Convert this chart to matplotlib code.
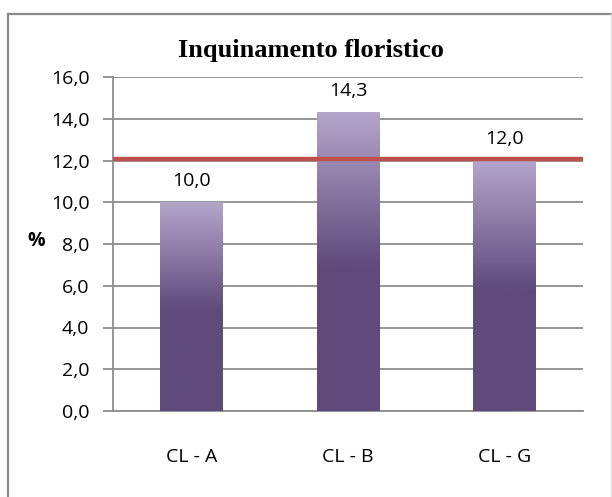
import matplotlib.pyplot as plt
import numpy as np
from matplotlib.colors import LinearSegmentedColormap
from matplotlib.lines import Line2D

categories = ["CL - A", "CL - B", "CL - G"]
values = [10.0, 14.3, 12.0]
threshold = 12.07
yticks = [0, 2, 4, 6, 8, 10, 12, 14, 16]

FONT = "Open Sans"

# bar fill: dark purple over the lower half, fading to lavender at the top
bar_cmap = LinearSegmentedColormap.from_list(
    "bar", [(0.0, "#5f4a7b"), (0.48, "#5f4a7b"), (1.0, "#b4a5cb")]
)

fig = plt.figure(figsize=(6.12, 4.97), dpi=100)
ax = fig.add_axes([113 / 612, 1 - 411 / 497, 470 / 612, 334 / 497])

x = np.arange(len(categories))
width = 0.4
bars = ax.bar(x, values, width=width, color="none", zorder=3)

grad = np.linspace(0, 1, 256).reshape(-1, 1)
for b in bars:
    x0, y0 = b.get_x(), b.get_y()
    ax.imshow(
        grad,
        cmap=bar_cmap,
        origin="lower",
        aspect="auto",
        extent=[x0, x0 + b.get_width(), y0, y0 + b.get_height()],
        zorder=3,
        interpolation="bilinear",
    )

for xi, v in zip(x, values):
    ax.annotate(
        f"{v:.1f}".replace(".", ","),
        (xi, v),
        xytext=(0, 12),
        textcoords="offset points",
        ha="center",
        va="baseline",
        fontsize=14,
        family=FONT,
        zorder=5,
    )

ax.axhline(threshold, color="#c0504d", lw=3.2, zorder=4)

ax.set_xlim(-0.5, len(categories) - 0.5)
ax.set_ylim(0, 16)
ax.set_yticks(yticks)
ax.set_yticklabels([f"{t:.1f}".replace(".", ",") for t in yticks])
ax.set_xticks(x)
ax.set_xticklabels(categories)
ax.yaxis.grid(True, color="#8c8c8c", lw=1.3, zorder=0)
ax.set_axisbelow(True)

for side in ["top", "right"]:
    ax.spines[side].set_visible(False)
for side in ["left", "bottom"]:
    ax.spines[side].set_color("#8c8c8c")
    ax.spines[side].set_linewidth(1.3)

ax.tick_params(axis="y", length=7, width=1.3, color="#8c8c8c", pad=10,
               labelsize=14)
ax.tick_params(axis="x", length=0, pad=27, labelsize=14)
for lbl in ax.get_xticklabels() + ax.get_yticklabels():
    lbl.set_family(FONT)

fig.text(36 / 612, 1 - 241 / 497, "%", fontsize=14, fontweight="bold",
         family=FONT, ha="center", va="center")
fig.text(311 / 612, 1 - 57 / 497, "Inquinamento floristico", fontsize=19,
         fontweight="bold", family="Liberation Serif", ha="center",
         va="baseline")

# chart frame
fig.add_artist(Line2D([8 / 612, 8 / 612], [0, 1 - 14 / 497],
                      color="#8a8a8a", lw=1.6, transform=fig.transFigure))
fig.add_artist(Line2D([8 / 612, 611 / 612], [1 - 14 / 497, 1 - 14 / 497],
                      color="#8a8a8a", lw=1.6, transform=fig.transFigure))
fig.add_artist(Line2D([611 / 612, 611 / 612], [0, 1 - 14 / 497],
                      color="#e0e0e0", lw=1.0, transform=fig.transFigure))

fig.savefig("out.png", dpi=100)
